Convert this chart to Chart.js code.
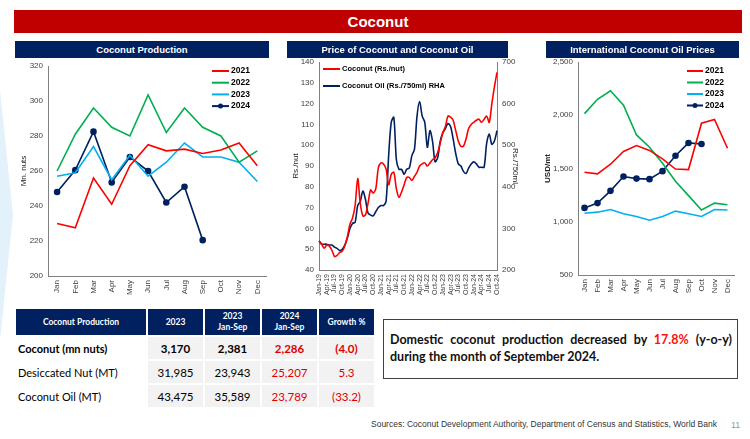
<!DOCTYPE html>
<html>
<head>
<meta charset="utf-8">
<script src="https://cdn.jsdelivr.net/npm/chart.js@4.4.1/dist/chart.umd.min.js"></script>
<style>
  body { margin: 0; width: 750px; height: 439px; background: #fff; position: relative; overflow: hidden; font-family: "Liberation Sans", Arial, sans-serif; }
  .abs { position: absolute; }
  .title { left: 14px; top: 10px; width: 728px; height: 23px; background: #C00000; color: #fff; font-weight: bold; font-size: 15px; text-align: center; line-height: 23px; }
  .hdr { height: 17px; background: #002060; color: #fff; font-weight: bold; font-size: 9.5px; text-align: center; line-height: 17px; z-index: 2; }
  canvas { position: absolute; }
  table { position: absolute; left: 15px; top: 309px; border-collapse: collapse; font-family: Lato, "Liberation Sans", sans-serif; }
  th { background: #002060; color: #fff; font-size: 8.5px; font-weight: bold; height: 26px; border-left: 2px solid #fff; padding: 0; line-height: 11px; }
  th:first-child { border-left: none; }
  td { height: 22px; font-size: 11.5px; padding: 0; border-top: 2px solid #fff; border-left: 2px solid #fff; text-align: center; }
  td.num { background: #F2F2F2; }
  td.lab { text-align: left; padding-left: 1px; font-size: 11px; }
  .red { color: #E00000; }
  .b td { font-weight: bold; }
  .box { left: 383px; top: 319px; width: 355px; height: 60px; border: 1.5px solid #404040; box-sizing: border-box; }
  .boxtxt { left: 390px; top: 331px; width: 342px; font-family: Lato, "Liberation Sans", sans-serif; font-weight: bold; font-size: 12.5px; line-height: 17px; text-align: justify; text-align-last: left; color: #111; }
  .src { left: 371px; top: 419px; font-size: 8.5px; color: #333; }
  .pg { left: 731px; top: 420px; font-size: 9px; color: #999; }
</style>
</head>
<body>
<svg class="abs" style="left:0;top:0" width="20" height="439"><polygon points="0,90 13,215 0,340" fill="#E3F1FA"/></svg>
<div class="abs title">Coconut</div>
<div class="abs hdr" style="left:15px;top:41px;width:254px;">Coconut Production</div>
<div class="abs hdr" style="left:287px;top:41px;width:221px;">Price of Coconut and Coconut Oil</div>
<div class="abs hdr" style="left:546px;top:41px;width:193px;">International Coconut Oil Prices</div>

<canvas id="prod" style="left:10px;top:56px;" width="262" height="248"></canvas>
<canvas id="price" style="left:278px;top:52px;" width="245" height="251"></canvas>
<canvas id="intl" style="left:540px;top:52px;" width="200" height="251"></canvas>

<table id="tbl">
  <tr><th style="width:130px">Coconut Production</th><th style="width:55px">2023</th><th style="width:55px">2023<br>Jan-Sep</th><th style="width:55px">2024<br>Jan-Sep</th><th style="width:55px">Growth %</th></tr>
</table>

<div class="abs box"></div>
<div class="abs boxtxt">Domestic coconut production decreased by <span class="red" style="color:#FF1010">17.8%</span> (y-o-y) during the month of September 2024.</div>
<div class="abs src">Sources: Coconut Development Authority, Department of Census and Statistics, World Bank</div>
<div class="abs pg">11</div>

<script>
const months = ['Jan', 'Feb', 'Mar', 'Apr', 'May', 'Jun', 'Jul', 'Aug', 'Sep', 'Oct', 'Nov', 'Dec'];

// Coconut production, Mn. nuts
const prod2021 = [230, 227.5, 256, 241, 263, 275, 271.5, 272.5, 270, 272, 276, 263];
const prod2022 = [260, 281, 296, 285, 280, 303.5, 282, 296, 285, 280, 265, 271.5];
const prod2023 = [257, 259, 274, 255, 269, 257, 265, 276, 268, 268, 265, 254];
const prod2024 = [248, 260.5, 282.5, 253.5, 268, 260, 242, 251, 220.5];

// Monthly prices Jan-19 .. Oct-24
const priceYears = ['19', '20', '21', '22', '23', '24'];
const coconutPrice = [54, 52.5, 50.5, 52, 51.5, 49.5, 46.5, 47, 48.5, 49, 51.5, 56,
  62, 65, 71, 84, 72, 66, 66.5, 72, 78.5, 77, 79, 89,
  91.5, 91, 88.5, 81, 86, 87, 79, 75, 77.5, 81, 84.5, 84.5,
  83, 85, 87, 90, 91, 91.5, 90, 91.5, 93, 94, 96.5, 101,
  106, 109, 114, 113.5, 112, 107, 102, 99.5, 99.5, 103, 108, 110,
  111, 112, 112.5, 111, 112.5, 114, 111, 120, 128, 135];
const oilPrice = [270, 262, 262, 262, 260, 260, 255, 252, 247, 250, 260, 277,
  300, 312, 315, 355, 365, 390, 370, 337, 332, 330, 340, 350,
  355, 355, 365, 475, 555, 567, 465, 442, 442, 430, 442, 445,
  475, 490, 570, 605, 570, 555, 495, 535, 510, 460, 470, 510,
  530, 540, 552, 545, 515, 480, 455, 450, 437, 432, 445, 455,
  460, 455, 447, 447, 447, 505, 527, 502, 510, 535];

// International coconut oil prices, USD/mt
const intl2021 = [1465, 1450, 1540, 1660, 1715, 1670, 1590, 1495, 1490, 1925, 1960, 1690];
const intl2022 = [2015, 2150, 2230, 2095, 1815, 1700, 1550, 1380, 1245, 1110, 1175, 1160];
const intl2023 = [1080, 1090, 1115, 1075, 1050, 1015, 1050, 1100, 1075, 1050, 1115, 1110];
const intl2024 = [1130, 1175, 1290, 1425, 1405, 1400, 1475, 1620, 1740, 1730];

// table
const tblRows = ['Coconut (mn nuts)', 'Desiccated Nut (MT)', 'Coconut Oil (MT)'];
const tbl2023 = ['3,170', '31,985', '43,475'];
const tbl2023js = ['2,381', '23,943', '35,589'];
const tbl2024js = ['2,286', '25,207', '23,789'];
const tblGrowth = ['(4.0)', '5.3', '(33.2)'];

const RED = '#FF0000', GREEN = '#00B050', LBLUE = '#00B0F0', NAVY = '#002060';
const TICK = '#404040';
const FONT = 'Liberation Sans';

var tbl = document.getElementById('tbl');
tblRows.forEach((r, i) => {
  var tr = document.createElement('tr');
  if (i == 0) tr.className = 'b';
  tr.innerHTML = '<td class="lab">' + r + '</td><td class="num">' + tbl2023[i] + '</td><td class="num">' + tbl2023js[i] +
    '</td><td class="num red">' + tbl2024js[i] + '</td><td class="num red">' + tblGrowth[i] + '</td>';
  tbl.appendChild(tr);
});

// legend drawn inside the plot
const insideLegend = {
  id: 'insideLegend',
  afterDraw(chart, args, o) {
    const ctx = chart.ctx;
    ctx.save();
    chart.data.datasets.forEach((ds, i) => {
      const y = o.y + i * o.dy;
      ctx.strokeStyle = ds.borderColor;
      ctx.lineWidth = 2;
      ctx.beginPath();
      ctx.moveTo(o.x, y);
      ctx.lineTo(o.x + o.len, y);
      ctx.stroke();
      if (ds.pointRadius > 0) {
        ctx.fillStyle = ds.borderColor;
        ctx.beginPath();
        ctx.arc(o.x + o.len / 2, y, 2.5, 0, Math.PI * 2);
        ctx.fill();
      }
      ctx.fillStyle = '#000';
      ctx.font = 'bold ' + o.size + 'px "' + FONT + '"';
      ctx.textBaseline = 'middle';
      ctx.fillText(ds.label, o.x + o.len + 2, y);
    });
    ctx.restore();
  }
};

function line(label, data, color, marker, axis) {
  return {
    label: label, data: data, borderColor: color, backgroundColor: color,
    borderWidth: 1.6, pointRadius: marker ? 2.5 : 0, tension: 0, yAxisID: axis || 'y'
  };
}

function xAxis(size, h, offset, every) {
  return {
    offset: offset,
    grid: { display: false, drawTicks: true, tickLength: 3, color: '#808080' },
    border: { color: '#808080' },
    ticks: { color: TICK, font: { size: size, family: FONT }, maxRotation: 90, minRotation: 90, autoSkip: false, padding: 1,
      callback: function (v, i) { return i % every == 0 ? this.getLabelForValue(v) : ''; } },
    afterFit: s => { s.height = h; }
  };
}

function yAxis(min, max, step, w, title, bold, pos, fmt, tpad) {
  return {
    position: pos || 'left', min: min, max: max,
    grid: { display: false, drawTicks: true, tickLength: 3, color: '#808080' },
    border: { color: '#808080' },
    ticks: { stepSize: step, color: TICK, font: { size: 8, family: FONT }, padding: 2, callback: fmt || (v => v) },
    title: { display: true, text: title, color: '#222', font: { size: 8, family: FONT, weight: bold ? 'bold' : 'normal' },
      padding: { top: tpad || 0, bottom: 0 } },
    afterFit: s => { s.width = w; }
  };
}

Chart.defaults.animation = false;

new Chart(document.getElementById('prod'), {
  type: 'line',
  data: {
    labels: months,
    datasets: [
      line('2021', prod2021, RED),
      line('2022', prod2022, GREEN),
      line('2023', prod2023, LBLUE),
      line('2024', prod2024, NAVY, true)
    ]
  },
  options: {
    responsive: false,
    layout: { padding: { top: 10, right: 4 } },
    plugins: { legend: { display: false }, tooltip: { enabled: false },
      insideLegend: { x: 202, y: 15, dy: 11.7, len: 17, size: 8.5 } },
    scales: {
      x: xAxis(8, 28, true, 1),
      y: yAxis(200, 320, 20, 38, 'Mn. nuts', false, 'left', null, 9)
    }
  },
  plugins: [insideLegend]
});

var priceLabels = [];
priceYears.forEach(y => months.forEach(m => priceLabels.push(m + '-' + y)));
priceLabels = priceLabels.slice(0, coconutPrice.length);

new Chart(document.getElementById('price'), {
  type: 'line',
  data: {
    labels: priceLabels,
    datasets: [
      Object.assign(line('Coconut (Rs./nut)', coconutPrice, RED), { tension: 0.3 }),
      Object.assign(line('Coconut Oil (Rs./750ml) RHA', oilPrice, NAVY, false, 'y1'), { tension: 0.3 })
    ]
  },
  options: {
    responsive: false,
    layout: { padding: { top: 10 } },
    plugins: { legend: { display: false }, tooltip: { enabled: false },
      insideLegend: { x: 45, y: 17, dy: 17, len: 17, size: 7.5 } },
    scales: {
      x: xAxis(7, 33, false, 3),
      y: yAxis(40, 140, 10, 41, 'Rs./nut', false, 'left', null, 13),
      y1: yAxis(200, 700, 100, 26, 'Rs./750ml', false, 'right', null, 3)
    }
  },
  plugins: [insideLegend]
});

new Chart(document.getElementById('intl'), {
  type: 'line',
  data: {
    labels: months,
    datasets: [
      line('2021', intl2021, RED),
      line('2022', intl2022, GREEN),
      line('2023', intl2023, LBLUE),
      line('2024', intl2024, NAVY, true)
    ]
  },
  options: {
    responsive: false,
    layout: { padding: { top: 10, right: 6 } },
    plugins: { legend: { display: false }, tooltip: { enabled: false },
      insideLegend: { x: 147, y: 19, dy: 11.5, len: 16, size: 8.5 } },
    scales: {
      x: xAxis(8, 28, true, 1),
      y: yAxis(500, 2500, 500, 38, 'USD/mt', true, 'left', v => v.toLocaleString('en-US'), 3)
    }
  },
  plugins: [insideLegend]
});
</script>
</body>
</html>
